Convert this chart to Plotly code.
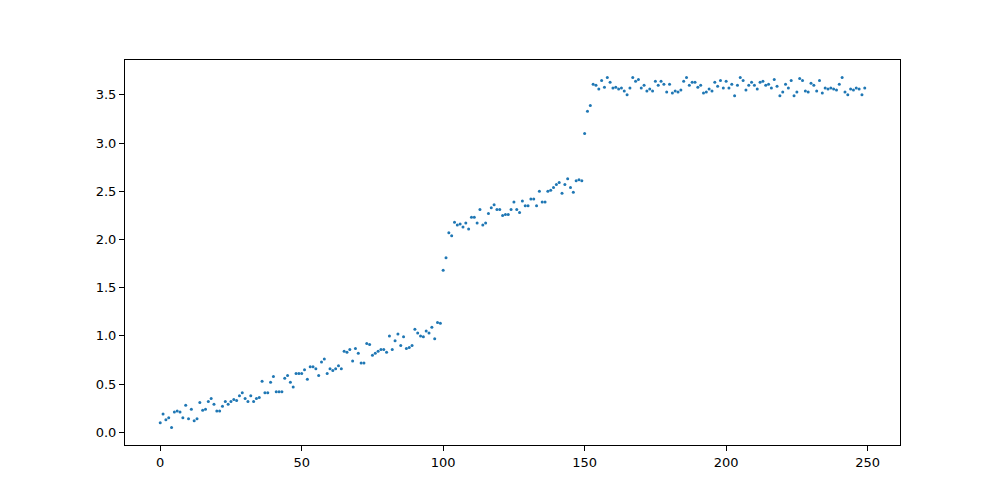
import plotly.graph_objects as go

x_index = list(range(250))
y_values = [
    0.10, 0.19, 0.13, 0.15, 0.05, 0.21, 0.22, 0.21, 0.15, 0.28,
    0.14, 0.24, 0.12, 0.14, 0.31, 0.23, 0.24, 0.32, 0.35, 0.29,
    0.22, 0.22, 0.27, 0.32, 0.29, 0.32, 0.34, 0.33, 0.38, 0.41,
    0.35, 0.32, 0.38, 0.32, 0.35, 0.36, 0.53, 0.41, 0.41, 0.52,
    0.58, 0.42, 0.42, 0.42, 0.56, 0.59, 0.52, 0.47, 0.61, 0.61,
    0.61, 0.65, 0.55, 0.68, 0.68, 0.66, 0.59, 0.73, 0.76, 0.61,
    0.66, 0.64, 0.66, 0.69, 0.66, 0.84, 0.83, 0.86, 0.74, 0.87,
    0.82, 0.72, 0.72, 0.92, 0.91, 0.80, 0.82, 0.84, 0.86, 0.86,
    0.83, 1.00, 0.86, 0.95, 1.02, 0.90, 0.99, 0.87, 0.88, 0.90,
    1.07, 1.03, 1.00, 0.99, 1.05, 1.03, 1.09, 0.97, 1.14, 1.13,
    1.68, 1.81, 2.07, 2.04, 2.18, 2.15, 2.16, 2.13, 2.17, 2.11,
    2.23, 2.23, 2.17, 2.31, 2.15, 2.17, 2.27, 2.33, 2.36, 2.31,
    2.31, 2.25, 2.26, 2.26, 2.31, 2.39, 2.31, 2.28, 2.40, 2.35,
    2.35, 2.42, 2.42, 2.35, 2.50, 2.39, 2.39, 2.50, 2.51, 2.54,
    2.57, 2.59, 2.48, 2.57, 2.63, 2.54, 2.49, 2.61, 2.62, 2.61,
    3.10, 3.33, 3.39, 3.61, 3.60, 3.56, 3.65, 3.58, 3.68, 3.63,
    3.57, 3.58, 3.56, 3.57, 3.54, 3.50, 3.57, 3.68, 3.64, 3.66,
    3.57, 3.60, 3.54, 3.56, 3.54, 3.64, 3.60, 3.64, 3.61, 3.53,
    3.61, 3.52, 3.54, 3.53, 3.55, 3.64, 3.68, 3.60, 3.63, 3.63,
    3.58, 3.60, 3.52, 3.53, 3.56, 3.54, 3.63, 3.59, 3.65, 3.57,
    3.64, 3.57, 3.61, 3.49, 3.60, 3.68, 3.65, 3.55, 3.60, 3.63,
    3.60, 3.56, 3.63, 3.64, 3.60, 3.61, 3.57, 3.66, 3.59, 3.49,
    3.53, 3.61, 3.57, 3.65, 3.49, 3.53, 3.67, 3.65, 3.54, 3.53,
    3.62, 3.60, 3.54, 3.65, 3.52, 3.57, 3.56, 3.57, 3.56, 3.55,
    3.61, 3.68, 3.53, 3.50, 3.56, 3.55, 3.57, 3.56, 3.50, 3.57,
]

x_ticks = [0, 50, 100, 150, 200, 250]
y_ticks = [0.0, 0.5, 1.0, 1.5, 2.0, 2.5, 3.0, 3.5]

# matplotlib-like 5% margins
xmin, xmax = min(x_index), max(x_index)
ymin, ymax = min(y_values), max(y_values)
xpad = 0.05 * (xmax - xmin)
ypad = 0.05 * (ymax - ymin)

fig = go.Figure()
fig.add_trace(go.Scatter(
    x=x_index, y=y_values, mode="markers",
    marker=dict(color="#1f77b4", size=3, line=dict(width=0)),
    showlegend=False,
))

axis_common = dict(
    showgrid=False, zeroline=False,
    showline=True, linecolor="black", linewidth=1, mirror=True,
    ticks="outside", ticklen=5, tickwidth=1, tickcolor="black",
    tickfont=dict(family="DejaVu Sans", size=13, color="black"),
)

# page body has an 8px default margin; compensate so the axes box lands
# at the same window position as the reference
fig.update_layout(
    width=992, height=492, autosize=False,
    margin=dict(l=117, r=100, t=52, b=55),
    paper_bgcolor="white", plot_bgcolor="white",
    xaxis=dict(range=[xmin - xpad, xmax + xpad], tickvals=x_ticks,
               ticktext=[str(v) for v in x_ticks], **axis_common),
    yaxis=dict(range=[ymin - ypad, ymax + ypad], tickvals=y_ticks,
               ticktext=[f"{v:.1f}" for v in y_ticks], **axis_common),
)

fig.write_html("out.html")
